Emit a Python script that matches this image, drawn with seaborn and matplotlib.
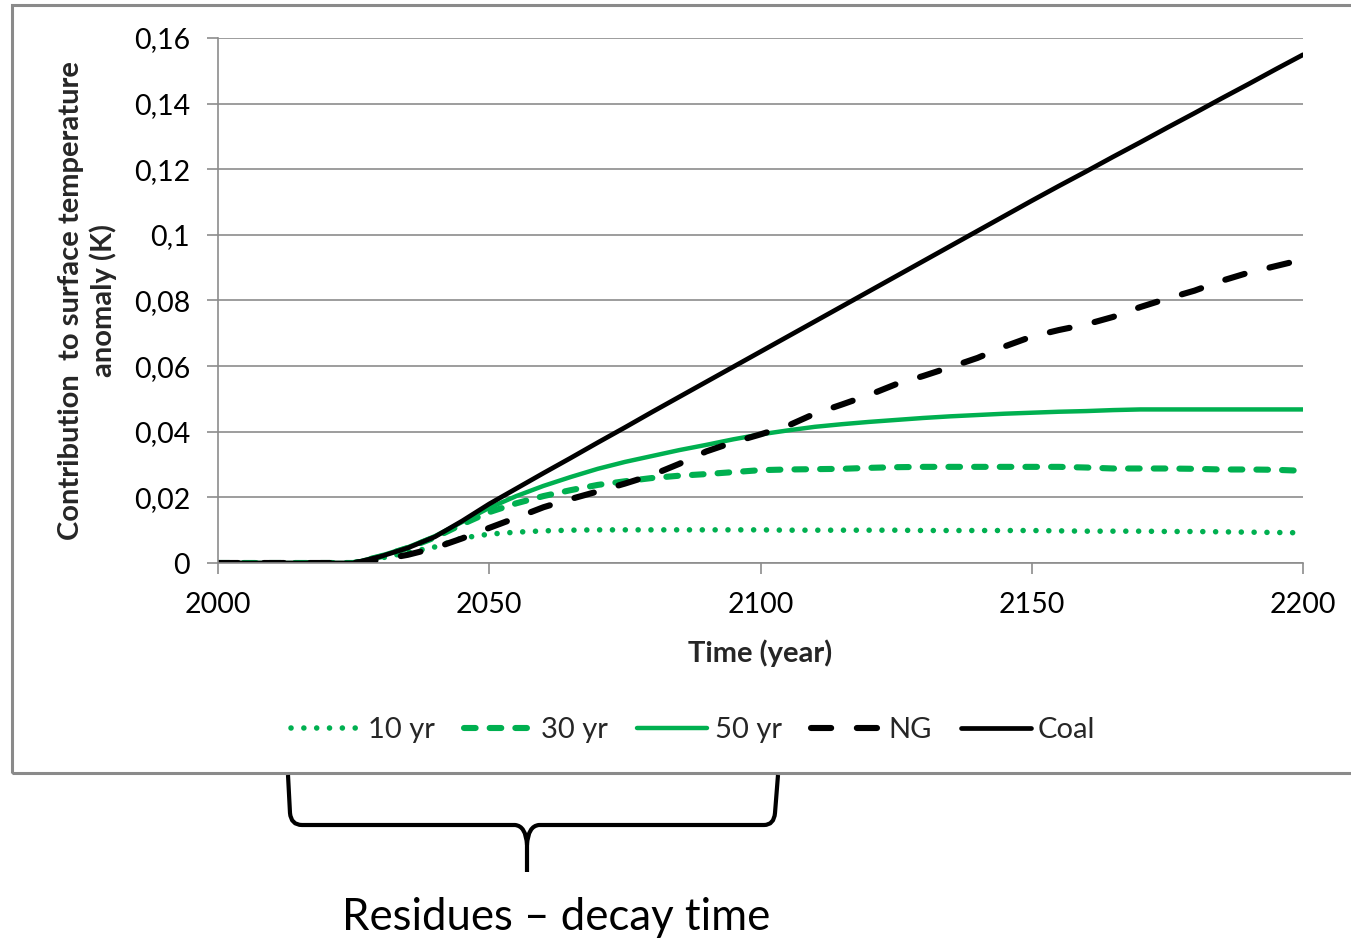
import numpy as np
import pandas as pd
import seaborn as sns
import matplotlib.pyplot as plt
from matplotlib.path import Path
from matplotlib.patches import PathPatch, Rectangle
from matplotlib.ticker import FuncFormatter, MultipleLocator

# ---- data -------------------------------------------------------------
years = np.arange(2000, 2201, 5)

zeros = [0.0] * 6  # 2000 .. 2025
yr10 = zeros + [0.0015, 0.0032, 0.0049, 0.0076, 0.0088, 0.0094, 0.0098, 0.0100, 0.0101, 0.0101,
                0.0101, 0.0101, 0.0101, 0.0101, 0.0101, 0.0100, 0.0100, 0.0100, 0.0100, 0.0100,
                0.0099, 0.0099, 0.0099, 0.0099, 0.0099, 0.0098, 0.0097, 0.0097, 0.0097, 0.0096,
                0.0096, 0.0095, 0.0094, 0.0093, 0.0092]
yr30 = zeros + [0.0020, 0.0046, 0.0078, 0.0118, 0.0155, 0.0182, 0.0204, 0.0222, 0.0238, 0.0249,
                0.0259, 0.0266, 0.0271, 0.0277, 0.0283, 0.0285, 0.0286, 0.0287, 0.0290, 0.0292,
                0.0293, 0.0293, 0.0293, 0.0293, 0.0293, 0.0293, 0.0291, 0.0288, 0.0288, 0.0288,
                0.0287, 0.0285, 0.0285, 0.0284, 0.0281]
yr50 = zeros + [0.0022, 0.0048, 0.0082, 0.0125, 0.0168, 0.0204, 0.0235, 0.0262, 0.0287, 0.0308,
                0.0326, 0.0344, 0.0360, 0.0377, 0.0392, 0.0404, 0.0415, 0.0423, 0.0430, 0.0436,
                0.0442, 0.0447, 0.0451, 0.0455, 0.0458, 0.0461, 0.0463, 0.0466, 0.0468, 0.0468,
                0.0468, 0.0468, 0.0468, 0.0468, 0.0468]
ng = zeros + [0.0010, 0.0025, 0.0046, 0.0075, 0.0107, 0.0138, 0.0170, 0.0195, 0.0218, 0.0242,
              0.0268, 0.0302, 0.0340, 0.0368, 0.0392, 0.0418, 0.0455, 0.0483, 0.0512, 0.0545,
              0.0570, 0.0597, 0.0625, 0.0660, 0.0690, 0.0710, 0.0727, 0.0750, 0.0780, 0.0806,
              0.0830, 0.0860, 0.0885, 0.0905, 0.0925]
coal = zeros + [0.0020, 0.0046, 0.0080, 0.0128, 0.0180, 0.0227, 0.0274, 0.0320, 0.0367, 0.0413,
                0.0460, 0.0506, 0.0552, 0.0598, 0.0644, 0.0690, 0.0736, 0.0782, 0.0828, 0.0874,
                0.0920, 0.0966, 0.1012, 0.1058, 0.1104, 0.1149, 0.1193, 0.1238, 0.1282, 0.1327,
                0.1371, 0.1416, 0.1460, 0.1505, 0.1549]

series_names = ["10 yr", "30 yr", "50 yr", "NG", "Coal"]
series_values = [yr10, yr30, yr50, ng, coal]

x_ticks = [2000, 2050, 2100, 2150, 2200]
x_label = "Time (year)"
y_label = "Contribution  to surface temperature\nanomaly (K)"
brace_label = "Residues \u2013 decay time"

# ---- styling ----------------------------------------------------------
GREEN = "#00B050"
GRID = "#8c8c8c"
styles = {
    "10 yr": dict(color=GREEN, lw=4.0, ls=(0, (0.01, 2.3))),
    "30 yr": dict(color=GREEN, lw=4.4, ls=(0, (1.9, 2.3))),
    "50 yr": dict(color=GREEN, lw=3.2, ls="-"),
    "NG": dict(color="black", lw=4.4, ls=(0, (3.3, 4.2))),
    "Coal": dict(color="black", lw=3.4, ls="-"),
}

sns.set_theme(style="white")
plt.rcParams["font.family"] = ["Lato", "DejaVu Sans"]

W, H = 1351, 941
fig = plt.figure(figsize=(W / 100, H / 100), dpi=100)
fig.patch.set_facecolor("white")

# chart frame
fig.add_artist(Rectangle((12 / W, 1 - 773 / H), (1380 - 12) / W, (773 - 5) / H,
                         transform=fig.transFigure, fill=False,
                         edgecolor="#8a8a8a", linewidth=2.2, clip_on=False))

ax = fig.add_axes([218 / W, 1 - 563 / H, (1303 - 218) / W, (563 - 38) / H])

df = pd.DataFrame({"year": years})
for name, vals in zip(series_names, series_values):
    df[name] = vals

handles = []
for name in series_names:
    st = styles[name]
    sns.lineplot(data=df, x="year", y=name, ax=ax, color=st["color"],
                 linewidth=st["lw"], linestyle=st["ls"], legend=False,
                 dash_capstyle="round", solid_capstyle="round", label=name)
    handles.append(ax.get_lines()[-1])

ax.set_xlim(2000, 2200)
ax.set_ylim(0, 0.16)
ax.set_xticks(x_ticks)
ax.yaxis.set_major_locator(MultipleLocator(0.02))


def comma_fmt(v, _):
    if abs(v) < 1e-9:
        return "0"
    return f"{v:.2f}".rstrip("0").replace(".", ",")


ax.yaxis.set_major_formatter(FuncFormatter(comma_fmt))
ax.grid(axis="y", color=GRID, linewidth=1.2)
ax.grid(axis="x", visible=False)
ax.set_axisbelow(True)
for side in ["top", "right"]:
    ax.spines[side].set_visible(False)
for side in ["left", "bottom"]:
    ax.spines[side].set_color(GRID)
    ax.spines[side].set_linewidth(1.2)
ax.tick_params(axis="both", which="major", length=8, width=1.2, color=GRID,
               labelsize=20.5, labelcolor="black", direction="out")
ax.tick_params(axis="y", pad=12, left=True)
ax.tick_params(axis="x", pad=13, bottom=True)

ax.set_xlabel(x_label, fontsize=21, fontweight="bold", labelpad=15)
ax.set_ylabel(y_label, fontsize=21, fontweight="bold", labelpad=12, linespacing=1.25)

leg = fig.legend(handles=handles, labels=series_names, loc="center",
                 bbox_to_anchor=(693 / W, 1 - 730 / H), ncol=5, frameon=False,
                 fontsize=21, handlelength=2.4, handletextpad=0.25,
                 columnspacing=1.0)

# curly brace under the chart frame
def px(x, y):
    return (x / W, 1 - y / H)

verts = [px(288, 775), px(290, 813), px(291, 825), px(302, 825), px(515, 825),
         px(526, 826), px(527, 845), px(527, 872),
         px(527, 845), px(528, 826), px(539, 825), px(764, 825),
         px(774, 825), px(775, 813), px(778, 775)]
codes = [Path.MOVETO, Path.LINETO, Path.CURVE3, Path.CURVE3, Path.LINETO,
         Path.CURVE3, Path.CURVE3, Path.LINETO,
         Path.MOVETO, Path.CURVE3, Path.CURVE3, Path.LINETO,
         Path.CURVE3, Path.CURVE3, Path.LINETO]
fig.add_artist(PathPatch(Path(verts, codes), transform=fig.transFigure,
                         fill=False, edgecolor="black", linewidth=3.0,
                         capstyle="butt", joinstyle="round"))

fig.text(556 / W, 1 - 917 / H, brace_label, ha="center", va="center",
         fontsize=31.5, color="black")

fig.savefig("out.png", dpi=100, facecolor="white")
